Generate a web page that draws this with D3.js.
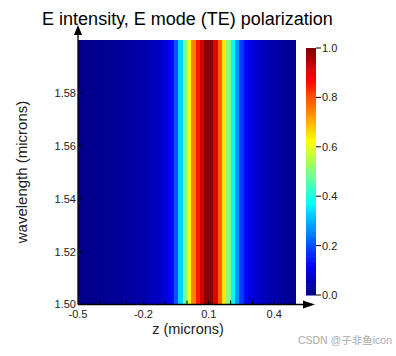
<!DOCTYPE html>
<html>
<head>
<meta charset="utf-8">
<script src="https://cdn.jsdelivr.net/npm/d3@7"></script>
<style>
  html, body { margin: 0; padding: 0; background: #fff; }
  svg { display: block; }
  text { font-family: "Liberation Sans", Arial, sans-serif; }
</style>
</head>
<body>
<script>
// ---- data ----
const zCenters = d3.range(50).map(i => +(-0.49 + 0.02 * i).toFixed(2)); // column centres (microns)
const intensity = [
  0.010, 0.011, 0.012, 0.013, 0.014, 0.016, 0.018, 0.020, 0.022, 0.025,
  0.028, 0.031, 0.034, 0.038, 0.042, 0.047, 0.053, 0.060, 0.068, 0.080,
  0.100, 0.130, 0.210, 0.330, 0.480, 0.620, 0.750, 0.850, 0.920, 0.990,
  0.990, 0.900, 0.780, 0.650, 0.500, 0.370, 0.270, 0.185, 0.130, 0.100,
  0.082, 0.070, 0.060, 0.052, 0.045, 0.038, 0.032, 0.026, 0.021, 0.016
];
const wavelengthDomain = [1.50, 1.60];
const zDomain = [-0.5, 0.5];
const xTicks = [-0.5, -0.2, 0.1, 0.4];
const xMinorTicks = [-0.4, -0.3, -0.2, -0.1, 0.0, 0.1, 0.2, 0.3, 0.4];
const yTicks = [1.50, 1.52, 1.54, 1.56, 1.58];
const cbTicks = [0.0, 0.2, 0.4, 0.6, 0.8, 1.0];
const titleText = "E intensity, E mode (TE) polarization";
const xLabel = "z (microns)";
const yLabel = "wavelength (microns)";
const watermark = "CSDN @子非鱼icon";

// ---- jet colormap ----
function jet(t) {
  const c = v => Math.max(0, Math.min(1, v));
  const r = c(1.5 - Math.abs(4 * t - 3));
  const g = c(1.5 - Math.abs(4 * t - 2));
  const b = c(1.5 - Math.abs(4 * t - 1));
  return d3.rgb(r * 255, g * 255, b * 255).formatHex();
}

const W = 396, H = 356;
const svg = d3.select("body").append("svg").attr("width", W).attr("height", H);

const x = d3.scaleLinear().domain(zDomain).range([78, 296]);
const y = d3.scaleLinear().domain(wavelengthDomain).range([304.5, 40]);
const dz = 0.02;

// heatmap columns
svg.append("g").selectAll("rect").data(zCenters).join("rect")
  .attr("x", d => x(d - dz / 2))
  .attr("width", d => x(d + dz / 2) - x(d - dz / 2) + 0.4)
  .attr("y", y(wavelengthDomain[1]))
  .attr("height", y(wavelengthDomain[0]) - y(wavelengthDomain[1]))
  .attr("fill", (d, i) => jet(intensity[i]))
  .attr("shape-rendering", "crispEdges");

// axes lines with arrows
const axisG = svg.append("g");
axisG.append("line").attr("x1", x.range()[0]).attr("x2", x.range()[0])
  .attr("y1", y.range()[0]).attr("y2", 32).attr("stroke", "#000").attr("stroke-width", 1.3);
axisG.append("path")
  .attr("d", `M${x.range()[0]},25 L${x.range()[0] - 4},35 L${x.range()[0] + 4},35 Z`)
  .attr("fill", "#000");
axisG.append("line").attr("x1", x.range()[0]).attr("x2", 308)
  .attr("y1", y.range()[0]).attr("y2", y.range()[0]).attr("stroke", "#000").attr("stroke-width", 1.3);
axisG.append("path")
  .attr("d", `M315,${y.range()[0]} L303,${y.range()[0] - 4} L303,${y.range()[0] + 4} Z`)
  .attr("fill", "#000");

// x ticks (inward)
axisG.selectAll(".xt").data(xMinorTicks).join("line")
  .attr("x1", d => x(d)).attr("x2", d => x(d))
  .attr("y1", y.range()[0]).attr("y2", y.range()[0] - 4)
  .attr("stroke", "#000").attr("stroke-width", 1);
axisG.selectAll(".xl").data(xTicks).join("text")
  .attr("x", d => x(d)).attr("y", 318)
  .attr("text-anchor", "middle").attr("font-size", 11).attr("fill", "#222")
  .text(d => d.toFixed(1));

// y ticks (inward)
axisG.selectAll(".yt").data(yTicks).join("line")
  .attr("x1", x.range()[0]).attr("x2", x.range()[0] + 4)
  .attr("y1", d => y(d)).attr("y2", d => y(d))
  .attr("stroke", "#000").attr("stroke-width", 1);
axisG.selectAll(".yl").data(yTicks).join("text")
  .attr("x", 76).attr("y", d => Math.min(y(d) + 4, 307.5))
  .attr("text-anchor", "end").attr("font-size", 11).attr("fill", "#222")
  .text(d => d.toFixed(2));

// labels
svg.append("text").attr("x", 188).attr("y", 334).attr("text-anchor", "middle")
  .attr("font-size", 14.5).attr("fill", "#222").text(xLabel);
svg.append("text").attr("transform", "translate(27,172) rotate(-90)")
  .attr("text-anchor", "middle").attr("font-size", 15).attr("fill", "#222").text(yLabel);
svg.append("text").attr("x", 187.5).attr("y", 25).attr("text-anchor", "middle")
  .attr("font-size", 18).attr("fill", "#000").text(titleText);

// colorbar
const cb = d3.scaleLinear().domain([0, 1]).range([295, 48]);
const cbSteps = d3.range(0, 1, 1 / 128);
svg.append("g").selectAll("rect").data(cbSteps).join("rect")
  .attr("x", 306).attr("width", 10)
  .attr("y", d => cb(d + 1 / 128)).attr("height", d => cb(d) - cb(d + 1 / 128) + 0.5)
  .attr("fill", d => jet(d + 0.5 / 128));
svg.append("g").selectAll("line").data(cbTicks).join("line")
  .attr("x1", 316).attr("x2", 321).attr("y1", d => cb(d)).attr("y2", d => cb(d))
  .attr("stroke", "#000").attr("stroke-width", 1);
svg.append("g").selectAll("text").data(cbTicks).join("text")
  .attr("x", 322).attr("y", d => cb(d) + 4)
  .attr("font-size", 11).attr("fill", "#222").text(d => d.toFixed(1));

// watermark
svg.append("text").attr("x", 392).attr("y", 344).attr("text-anchor", "end")
  .attr("font-size", 10.5).attr("fill", "#aaa")
  .style("font-family", "'Liberation Sans', 'Noto Sans CJK SC', sans-serif")
  .text(watermark);
</script>
</body>
</html>
